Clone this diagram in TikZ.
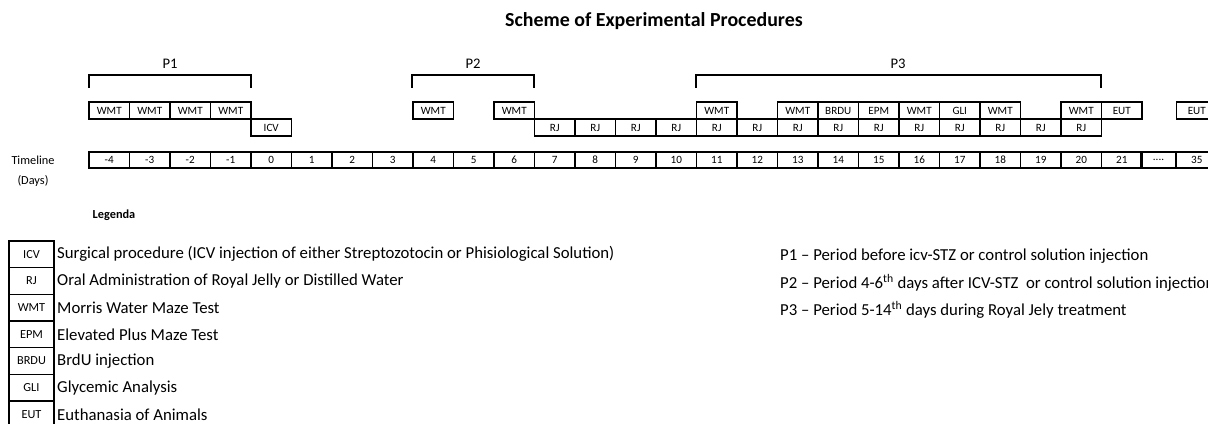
\documentclass[tikz,border=0pt]{standalone}
\usepackage{fontspec}
\setmainfont{Carlito}
\usetikzlibrary{positioning}
\tikzset{
    cellbox/.style = {rectangle, line width=1.4pt, draw=black, minimum width=12.15mm, minimum height=5.1mm, inner sep=0pt, font=\fontsize{9.5}{9.5}\selectfont, text=black},
    daybox/.style = {cellbox, minimum height=4.8mm},
    legbox/.style = {rectangle, line width=1.4pt, draw=black, minimum width=13.5mm, minimum height=8mm, inner sep=0pt, font=\fontsize{10.5}{10.5}\selectfont},
    legtext/.style = {anchor=west, inner sep=0pt, font=\fontsize{14.3}{14.3}\selectfont},
    plabel/.style = {inner sep=0pt, font=\fontsize{12.5}{12.5}\selectfont},
    bracket/.style = {-, line width=1.4pt, black}
}

\begin{document}
\begin{tikzpicture}[x=0.3mm,y=-0.3mm]
\useasboundingbox (0,0) rectangle (1208,424);
%
\node[font=\fontsize{17}{17}\selectfont\bfseries] (title) at (654,21) {Scheme of Experimental Procedures};
%
\draw[bracket] (89,88) |- (251,75) -- (251,88);
\draw[bracket] (412,88) |- (534,75) -- (534,88);
\draw[bracket] (696,88) |- (1101,75) -- (1101,88);
\node[plabel] (p1) at (170,64) {P1};
\node[plabel] (p2) at (473,64) {P2};
\node[plabel] (p3) at (898,64) {P3};
%
\foreach \d in {-4,...,-1} \node[cellbox] (w\d) at ({271.25+40.5*\d},110.5) {WMT};
\node[cellbox] (w4) at ({271.25+40.5*4},110.5) {WMT};
\node[cellbox] (w6) at ({271.25+40.5*6},110.5) {WMT};
\node[cellbox] (w11) at ({271.25+40.5*11},110.5) {WMT};
\node[cellbox] (w13) at ({271.25+40.5*13},110.5) {WMT};
\node[cellbox] (b14) at ({271.25+40.5*14},110.5) {BRDU};
\node[cellbox] (e15) at ({271.25+40.5*15},110.5) {EPM};
\node[cellbox] (w16) at ({271.25+40.5*16},110.5) {WMT};
\node[cellbox] (g17) at ({271.25+40.5*17},110.5) {GLI};
\node[cellbox] (w18) at ({271.25+40.5*18},110.5) {WMT};
\node[cellbox] (w20) at ({271.25+40.5*20},110.5) {WMT};
\node[cellbox] (u21) at ({271.25+40.5*21},110.5) {EUT};
\node[cellbox] (u35) at (1196.75,110.5) {EUT};
%
\node[cellbox] (icv0) at (271.25,127.5) {ICV};
\foreach \d in {7,...,20} \node[cellbox] (rj\d) at ({271.25+40.5*\d},127.5) {RJ};
%
\foreach \d in {-4,...,21} \node[daybox] (t\d) at ({271.25+40.5*\d},160) {\d};
\node[daybox, minimum width=10.5mm] (tdots) at (1158.5,160) {....};
\node[daybox] (t35) at (1196.75,160) {35};
\node[font=\fontsize{10.5}{10.5}\selectfont] (tl) at (33,160) {Timeline};
\node[font=\fontsize{10.5}{10.5}\selectfont] (tu) at (33,181) {(Days)};
%
\node[font=\fontsize{10.5}{10.5}\selectfont\bfseries] (leg) at (114,215) {Legenda};
\node[legbox] (l1) at (31.5,254.3) {ICV};
\node[legbox] (l2) at (31.5,281) {RJ};
\node[legbox] (l3) at (31.5,307.7) {WMT};
\node[legbox] (l4) at (31.5,334.3) {EPM};
\node[legbox] (l5) at (31.5,361) {BRDU};
\node[legbox] (l6) at (31.5,387.7) {GLI};
\node[legbox] (l7) at (31.5,414.3) {EUT};
\node[legtext] (d1) at (57,254.3) {Surgical procedure (ICV injection of either Streptozotocin or Phisiological Solution)};
\node[legtext] (d2) at (57,281) {Oral Administration of Royal Jelly or Distilled Water};
\node[legtext] (d3) at (57,307.7) {Morris Water Maze Test};
\node[legtext] (d4) at (57,334.3) {Elevated Plus Maze Test};
\node[legtext] (d5) at (57,361) {BrdU injection};
\node[legtext] (d6) at (57,387.7) {Glycemic Analysis};
\node[legtext] (d7) at (57,414.3) {Euthanasia of Animals};
%
\node[legtext] (q1) at (780,256.5) {P1 -- Period before icv-STZ or control solution injection};
\node[legtext] (q2) at (780,283) {P2 -- Period 4-6\textsuperscript{th} days after ICV-STZ\ \ or control solution injection};
\node[legtext] (q3) at (780,309.7) {P3 -- Period 5-14\textsuperscript{th} days during Royal Jely treatment};
\end{tikzpicture}
\end{document}
